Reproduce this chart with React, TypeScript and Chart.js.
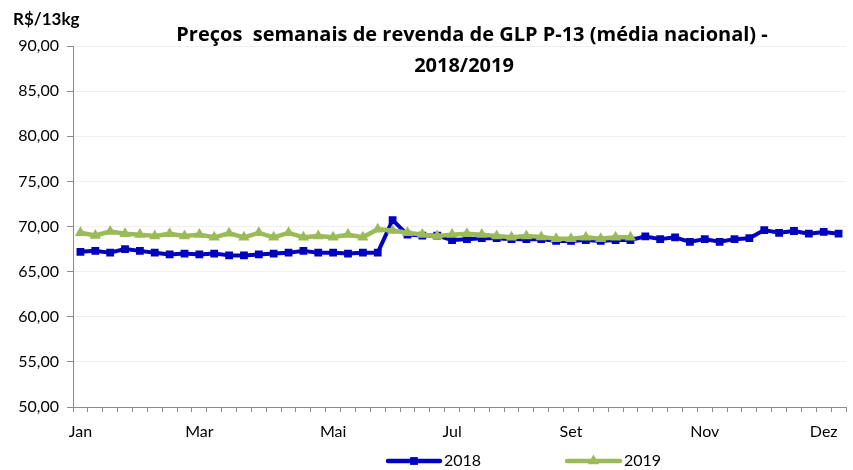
import React, { useEffect, useRef } from 'react';
import { Chart, registerables } from 'chart.js';

Chart.register(...registerables);

// Month labels and the weekly category index where each one sits
const monthLabels = ['Jan', 'Mar', 'Mai', 'Jul', 'Set', 'Nov', 'Dez'];
const monthWeekIndex = [0, 8, 17, 25, 33, 42, 50];
const weekCount = 52;

// Weekly national average resale price (R$/13kg)
const prices2018 = [
  67.2, 67.3, 67.1, 67.5, 67.3, 67.1, 66.9, 67.0, 66.9, 67.0,
  66.8, 66.8, 66.9, 67.0, 67.1, 67.3, 67.1, 67.1, 67.0, 67.1,
  67.1, 70.7, 69.1, 69.0, 69.0, 68.5, 68.6, 68.7, 68.7, 68.6,
  68.6, 68.6, 68.4, 68.4, 68.5, 68.4, 68.5, 68.5, 68.9, 68.6,
  68.8, 68.3, 68.6, 68.3, 68.6, 68.7, 69.6, 69.3, 69.5, 69.2,
  69.4, 69.2,
];

const prices2019 = [
  69.3, 69.0, 69.45, 69.2, 69.1, 68.95, 69.2, 68.95, 69.1, 68.8,
  69.25, 68.8, 69.3, 68.8, 69.3, 68.8, 68.95, 68.8, 69.1, 68.8,
  69.7, 69.55, 69.3, 69.1, 68.95, 69.1, 69.2, 69.1, 68.95, 68.8,
  68.95, 68.85, 68.65, 68.65, 68.8, 68.65, 68.8, 68.8,
];

const seriesNames = ['2018', '2019'];
const titleLines = ['Preços  semanais de revenda de GLP P-13 (média nacional) -', '2018/2019'];
const unitLabel = 'R$/13kg';
const yMin = 50;
const yMax = 90;
const yStep = 5;

const BLUE = '#0000BF';
const GREEN = '#9BBB59';
const FONT = 'Lato';
const TITLE_FONT = '"Open Sans"';

const weekLabels: string[] = Array.from({ length: weekCount }, () => '');
monthWeekIndex.forEach((w, i) => {
  weekLabels[w] = monthLabels[i];
});

const overlayPlugin = {
  id: 'overlay',
  afterDraw(chart: any) {
    const ctx: CanvasRenderingContext2D = chart.ctx;
    ctx.save();
    ctx.fillStyle = '#000';
    ctx.textBaseline = 'middle';
    ctx.textAlign = 'center';
    ctx.font = `bold 20px ${TITLE_FONT}`;
    ctx.fillText(titleLines[0], 472, 35);
    ctx.fillText(titleLines[1], 464, 66);
    ctx.textAlign = 'left';
    ctx.font = `bold 17px ${FONT}`;
    ctx.fillText(unitLabel, 13, 20);

    // legend: line sample with marker
    const ly = 461;
    const items = [
      { x0: 388, x1: 440, color: BLUE, style: 'rect', lw: 4.5, r: 5.5, name: seriesNames[0] },
      { x0: 567, x1: 620, color: GREEN, style: 'triangle', lw: 4.5, r: 6.5, name: seriesNames[1] },
    ];
    items.forEach((it) => {
      ctx.strokeStyle = it.color;
      ctx.lineWidth = it.lw;
      ctx.lineCap = 'round';
      ctx.beginPath();
      ctx.moveTo(it.x0, ly);
      ctx.lineTo(it.x1, ly);
      ctx.stroke();
      ctx.fillStyle = it.color;
      const cx = (it.x0 + it.x1) / 2;
      if (it.style === 'rect') {
        const s = it.r * Math.SQRT1_2;
        ctx.fillRect(cx - s, ly - s, 2 * s, 2 * s);
      } else {
        ctx.beginPath();
        ctx.moveTo(cx, ly - it.r);
        ctx.lineTo(cx + it.r * 0.866, ly + it.r / 2);
        ctx.lineTo(cx - it.r * 0.866, ly + it.r / 2);
        ctx.closePath();
        ctx.fill();
      }
      ctx.fillStyle = '#000';
      ctx.font = `16px ${FONT}`;
      ctx.textAlign = 'left';
      ctx.fillText(it.name, it.x1 + 4, ly);
    });
    ctx.restore();
  },
};

export default function App() {
  const canvasRef = useRef<HTMLCanvasElement | null>(null);

  useEffect(() => {
    document.body.style.margin = '0';
    const canvas = canvasRef.current;
    if (!canvas) return;
    const chart = new Chart(canvas, {
      type: 'line',
      data: {
        labels: weekLabels,
        datasets: [
          {
            label: seriesNames[0],
            data: prices2018,
            borderColor: BLUE,
            backgroundColor: BLUE,
            borderWidth: 4,
            pointStyle: 'rect',
            pointRadius: 5.5,
            pointBorderWidth: 0,
            pointBackgroundColor: BLUE,
            tension: 0,
            order: 2,
          },
          {
            label: seriesNames[1],
            data: prices2019,
            borderColor: GREEN,
            backgroundColor: GREEN,
            borderWidth: 4.5,
            pointStyle: 'triangle',
            pointRadius: 6.5,
            pointBorderWidth: 0,
            pointBackgroundColor: GREEN,
            tension: 0,
            order: 1,
          },
        ],
      },
      options: {
        animation: false,
        responsive: false,
        devicePixelRatio: 1,
        layout: { padding: { left: 0, right: 7, top: 46, bottom: 0 } },
        plugins: {
          legend: { display: false },
          title: { display: false },
          tooltip: { enabled: false },
        },
        elements: { line: { borderJoinStyle: 'round', borderCapStyle: 'round' } },
        scales: {
          x: {
            type: 'category',
            offset: true,
            grid: {
              drawOnChartArea: false,
              offset: true,
              tickLength: 5,
              tickColor: '#8c8c8c',
            },
            border: { color: '#8c8c8c', width: 1 },
            ticks: {
              autoSkip: false,
              maxRotation: 0,
              minRotation: 0,
              padding: 10,
              color: '#000',
              font: { family: FONT, size: 16 },
            },
            afterFit: (s: any) => {
              s.height = 63;
            },
          },
          y: {
            min: yMin,
            max: yMax,
            grid: {
              color: '#f0f0f0',
              tickColor: '#8c8c8c',
              tickLength: 6,
            },
            border: { color: '#8c8c8c', width: 1 },
            ticks: {
              stepSize: yStep,
              padding: 8,
              color: '#000',
              font: { family: FONT, size: 16 },
              callback: (v: any) => Number(v).toFixed(2).replace('.', ','),
            },
            afterFit: (s: any) => {
              s.width = 73;
            },
          },
        },
      },
      plugins: [overlayPlugin],
    });
    return () => chart.destroy();
  }, []);

  return (
    <div style={{ width: 853, height: 470 }}>
      <canvas ref={canvasRef} width={853} height={470} />
    </div>
  );
}
